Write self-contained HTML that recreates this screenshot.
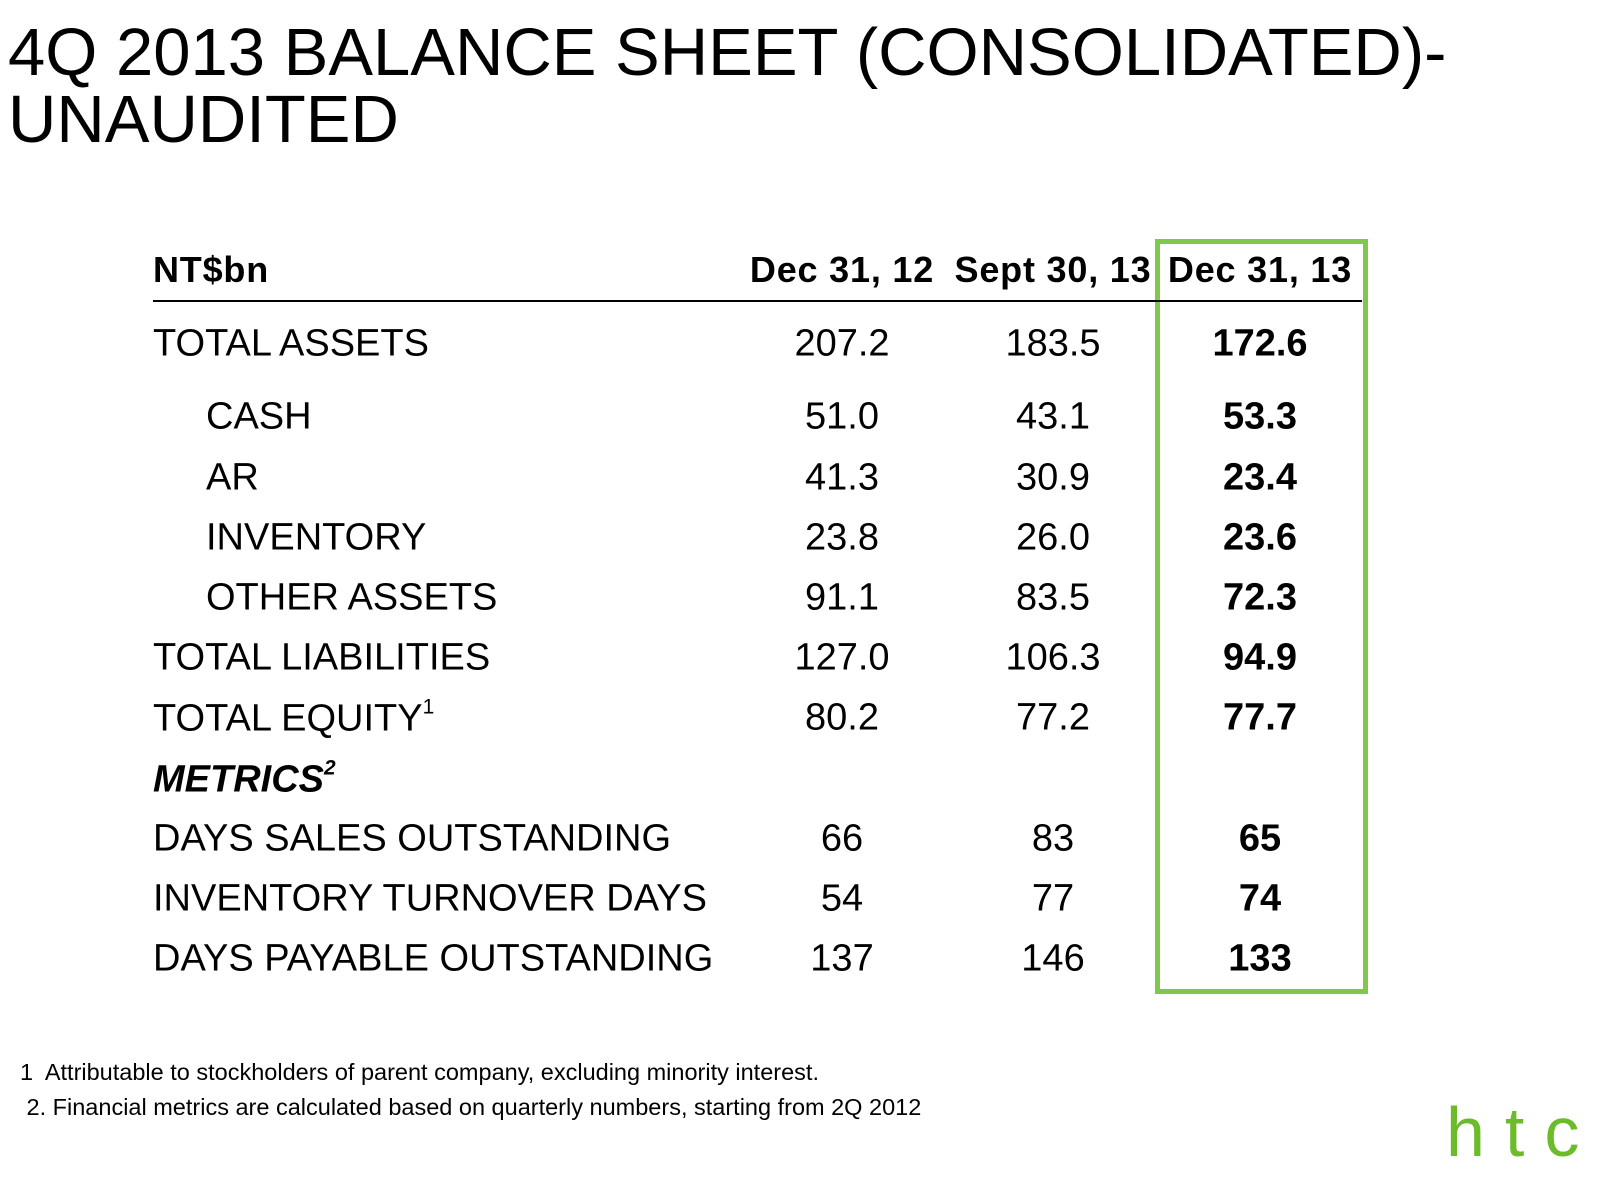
<!DOCTYPE html>
<html><head><meta charset="utf-8"><style>
body{margin:0;width:1600px;height:1200px;background:#fff;position:relative;overflow:hidden;font-family:"Liberation Sans",Arial,sans-serif;color:#000}
.a{position:absolute;white-space:nowrap}
.t{font-size:67px;left:8px;line-height:1}
.c{transform:translate(-50%,-50%);font-size:38px}
.l{transform:translateY(-50%);font-size:38px}
.h{font-weight:bold;font-size:36px;letter-spacing:0.8px}
.b{font-weight:bold}
.fn{font-size:23.5px}
sup{font-size:0.55em;vertical-align:0.8em}
</style></head><body>
<div class="a t" style="top:19px">4Q 2013 BALANCE SHEET (CONSOLIDATED)-</div>
<div class="a t" style="top:86px">UNAUDITED</div>
<div class="a" style="left:1155px;top:239px;width:203px;height:745px;border:5px solid #80c84c"></div>
<div class="a" style="left:153px;top:300px;width:1209px;height:2px;background:#000"></div>
<div id="tbl"></div>
<div class="a fn" style="left:20px;top:1059px">1&nbsp; Attributable to stockholders of parent company, excluding minority interest.</div>
<div class="a fn" style="left:20px;top:1094px">&nbsp;2. Financial metrics are calculated based on quarterly numbers, starting from 2Q 2012</div>
<div class="a" style="left:1446px;top:1097px;font-family:'Liberation Sans',sans-serif;font-size:70px;color:#6cbb2a;letter-spacing:20px;line-height:1">htc</div>
<script>
const columns=["Dec 31, 12","Sept 30, 13","Dec 31, 13"];
const labels=["TOTAL ASSETS","CASH","AR","INVENTORY","OTHER ASSETS","TOTAL LIABILITIES","TOTAL EQUITY","METRICS","DAYS SALES OUTSTANDING","INVENTORY TURNOVER DAYS","DAYS PAYABLE OUTSTANDING"];
const dec12=["207.2","51.0","41.3","23.8","91.1","127.0","80.2","","66","54","137"];
const sep13=["183.5","43.1","30.9","26.0","83.5","106.3","77.2","","83","77","146"];
const dec13=["172.6","53.3","23.4","23.6","72.3","94.9","77.7","","65","74","133"];
const rowY=[344,417,478,538,598,658,718,779,839,899,959];
const colX=[842,1053,1260];
const root=document.getElementById('tbl');
function add(cls,x,y,html){const d=document.createElement('div');d.className='a '+cls;d.style.left=x+'px';d.style.top=y+'px';d.innerHTML=html;root.appendChild(d);return d;}
let e=add('l h',153,270,'NT$bn');


columns.forEach((c,i)=>{const d=add('c h',colX[i],270,c);

});
const series=[dec12,sep13,dec13];
labels.forEach((lab,r)=>{
  const indent=(r>=1&&r<=4)?206:153;
  let txt=lab;
  if(lab==='TOTAL EQUITY')txt+='<sup>1</sup>';
  if(lab==='METRICS'){txt='<b><i>METRICS</i></b><sup><b><i>2</i></b></sup>';}
  const d=add('l',indent,rowY[r],txt);
  
  
  series.forEach((s,ci)=>{if(!s[r])return;
    const v=add('c'+(ci===2?' b':''),colX[ci],rowY[r],s[r]);
    
    });
});
</script>
</body></html>
